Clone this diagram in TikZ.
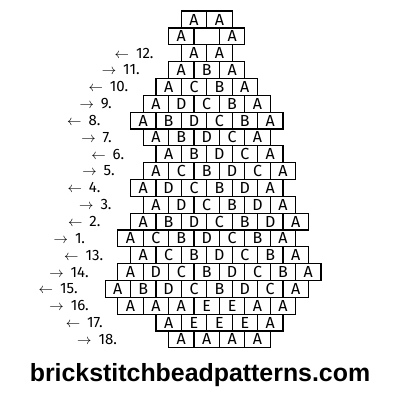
\documentclass[tikz,border=0pt]{standalone}
\usepackage{fontspec}
\setmainfont{Fira Sans}
\newfontfamily\sitefont{Liberation Sans}
\usetikzlibrary{chains,positioning}

\newcommand{\goleft}{$\leftarrow$\hspace{7pt}}
\newcommand{\goright}{$\rightarrow$\hspace{7pt}}

\begin{document}
\begin{tikzpicture}[x=1pt,y=-1pt]

        \edef\sizebead{25.4pt}
        \tikzstyle{bead}=[draw,line width=1.2pt,minimum width=\sizebead,minimum height=16.84pt,inner sep=0pt,outer sep=0pt,font=\fontsize{16}{16}\selectfont]
        \tikzstyle{rowlab}=[inner sep=0pt,outer sep=0pt,font=\fontsize{15}{15}\selectfont]

        \useasboundingbox (0,0) rectangle (400,400);

        %% Loop at the top
        \begin{scope}[shift={(194.0,19.5)},start chain=top going right,node distance=0pt]
            \foreach \c in {A,A} \node [on chain=top,bead] {\c};
        \end{scope}

        \begin{scope}[shift={(181.3,36.34)},start chain=gap going right,node distance=0pt]
            \foreach \c in {A,{},A} \node [on chain=gap,bead] {\c};
        \end{scope}

        %% Rows 12 to 7
        \begin{scope}[shift={(194.0,53.18)},start chain=r12 going right,node distance=0pt]
            \foreach \c in {A,A} \node [on chain=r12,bead] {\c};
        \end{scope}

        \begin{scope}[shift={(181.3,70.02)},start chain=r11 going right,node distance=0pt]
            \foreach \c in {A,B,A} \node [on chain=r11,bead] {\c};
        \end{scope}

        \begin{scope}[shift={(168.6,86.86)},start chain=r10 going right,node distance=0pt]
            \foreach \c in {A,C,B,A} \node [on chain=r10,bead] {\c};
        \end{scope}

        \begin{scope}[shift={(155.9,103.7)},start chain=r9 going right,node distance=0pt]
            \foreach \c in {A,D,C,B,A} \node [on chain=r9,bead] {\c};
        \end{scope}

        \begin{scope}[shift={(143.2,120.54)},start chain=r8 going right,node distance=0pt]
            \foreach \c in {A,B,D,C,B,A} \node [on chain=r8,bead] {\c};
        \end{scope}

        \begin{scope}[shift={(155.9,137.38)},start chain=r7 going right,node distance=0pt]
            \foreach \c in {A,B,D,C,A} \node [on chain=r7,bead] {\c};
        \end{scope}

        %% Rows 6 to 1
        \begin{scope}[shift={(168.6,154.22)},start chain=r6 going right,node distance=0pt]
            \foreach \c in {A,B,D,C,A} \node [on chain=r6,bead] {\c};
        \end{scope}

        \begin{scope}[shift={(155.9,171.06)},start chain=r5 going right,node distance=0pt]
            \foreach \c in {A,C,B,D,C,A} \node [on chain=r5,bead] {\c};
        \end{scope}

        \begin{scope}[shift={(143.2,187.9)},start chain=r4 going right,node distance=0pt]
            \foreach \c in {A,D,C,B,D,A} \node [on chain=r4,bead] {\c};
        \end{scope}

        \begin{scope}[shift={(155.9,204.74)},start chain=r3 going right,node distance=0pt]
            \foreach \c in {A,D,C,B,D,A} \node [on chain=r3,bead] {\c};
        \end{scope}

        \begin{scope}[shift={(143.2,221.58)},start chain=r2 going right,node distance=0pt]
            \foreach \c in {A,B,D,C,B,D,A} \node [on chain=r2,bead] {\c};
        \end{scope}

        \begin{scope}[shift={(130.5,238.42)},start chain=r1 going right,node distance=0pt]
            \foreach \c in {A,C,B,D,C,B,A} \node [on chain=r1,bead] {\c};
        \end{scope}

        %% Rows 13 to 18
        \begin{scope}[shift={(143.2,255.26)},start chain=r13 going right,node distance=0pt]
            \foreach \c in {A,C,B,D,C,B,A} \node [on chain=r13,bead] {\c};
        \end{scope}

        \begin{scope}[shift={(130.5,272.1)},start chain=r14 going right,node distance=0pt]
            \foreach \c in {A,D,C,B,D,C,B,A} \node [on chain=r14,bead] {\c};
        \end{scope}

        \begin{scope}[shift={(117.8,288.94)},start chain=r15 going right,node distance=0pt]
            \foreach \c in {A,B,D,C,B,D,C,A} \node [on chain=r15,bead] {\c};
        \end{scope}

        \begin{scope}[shift={(130.5,305.78)},start chain=r16 going right,node distance=0pt]
            \foreach \c in {A,A,A,E,E,A,A} \node [on chain=r16,bead] {\c};
        \end{scope}

        \begin{scope}[shift={(168.6,322.62)},start chain=r17 going right,node distance=0pt]
            \foreach \c in {A,E,E,E,A} \node [on chain=r17,bead] {\c};
        \end{scope}

        \begin{scope}[shift={(181.3,339.46)},start chain=r18 going right,node distance=0pt]
            \foreach \c in {A,A,A,A} \node [on chain=r18,bead] {\c};
        \end{scope}

        %% Row numbers and directions
        \node[rowlab,left=27.7pt of r12-1] (l12) {\goleft 12.};
        \node[rowlab,left=29pt of r11-1] (l11) {\goright 11.};
        \node[rowlab,left=27.7pt of r10-1] (l10) {\goleft 10.};
        \node[rowlab,left=31.6pt of r9-1] (l9) {\goright 9.};
        \node[rowlab,left=30pt of r8-1] (l8) {\goleft 8.};
        \node[rowlab,left=31.6pt of r7-1] (l7) {\goright 7.};
        \node[rowlab,left=31.7pt of r6-1] (l6) {\goleft 6.};
        \node[rowlab,left=28.4pt of r5-1] (l5) {\goright 5.};
        \node[rowlab,left=30pt of r4-1] (l4) {\goleft 4.};
        \node[rowlab,left=31.6pt of r3-1] (l3) {\goright 3.};
        \node[rowlab,left=30pt of r2-1] (l2) {\goleft 2.};
        \node[rowlab,left=32.7pt of r1-1] (l1) {\goright 1.};
        \node[rowlab,left=27.3pt of r13-1] (l13) {\goleft 13.};
        \node[rowlab,left=29pt of r14-1] (l14) {\goright 14.};
        \node[rowlab,left=27.4pt of r15-1] (l15) {\goleft 15.};
        \node[rowlab,left=29pt of r16-1] (l16) {\goright 16.};
        \node[rowlab,left=53.3pt of r17-1] (l17) {\goleft 17.};
        \node[rowlab,left=51.6pt of r18-1] (l18) {\goright 18.};

        \node[anchor=base,font=\sitefont\bfseries\fontsize{24.9}{25}\selectfont] (site) at (200,381) {brickstitchbeadpatterns.com};

    \end{tikzpicture}
\end{document}
